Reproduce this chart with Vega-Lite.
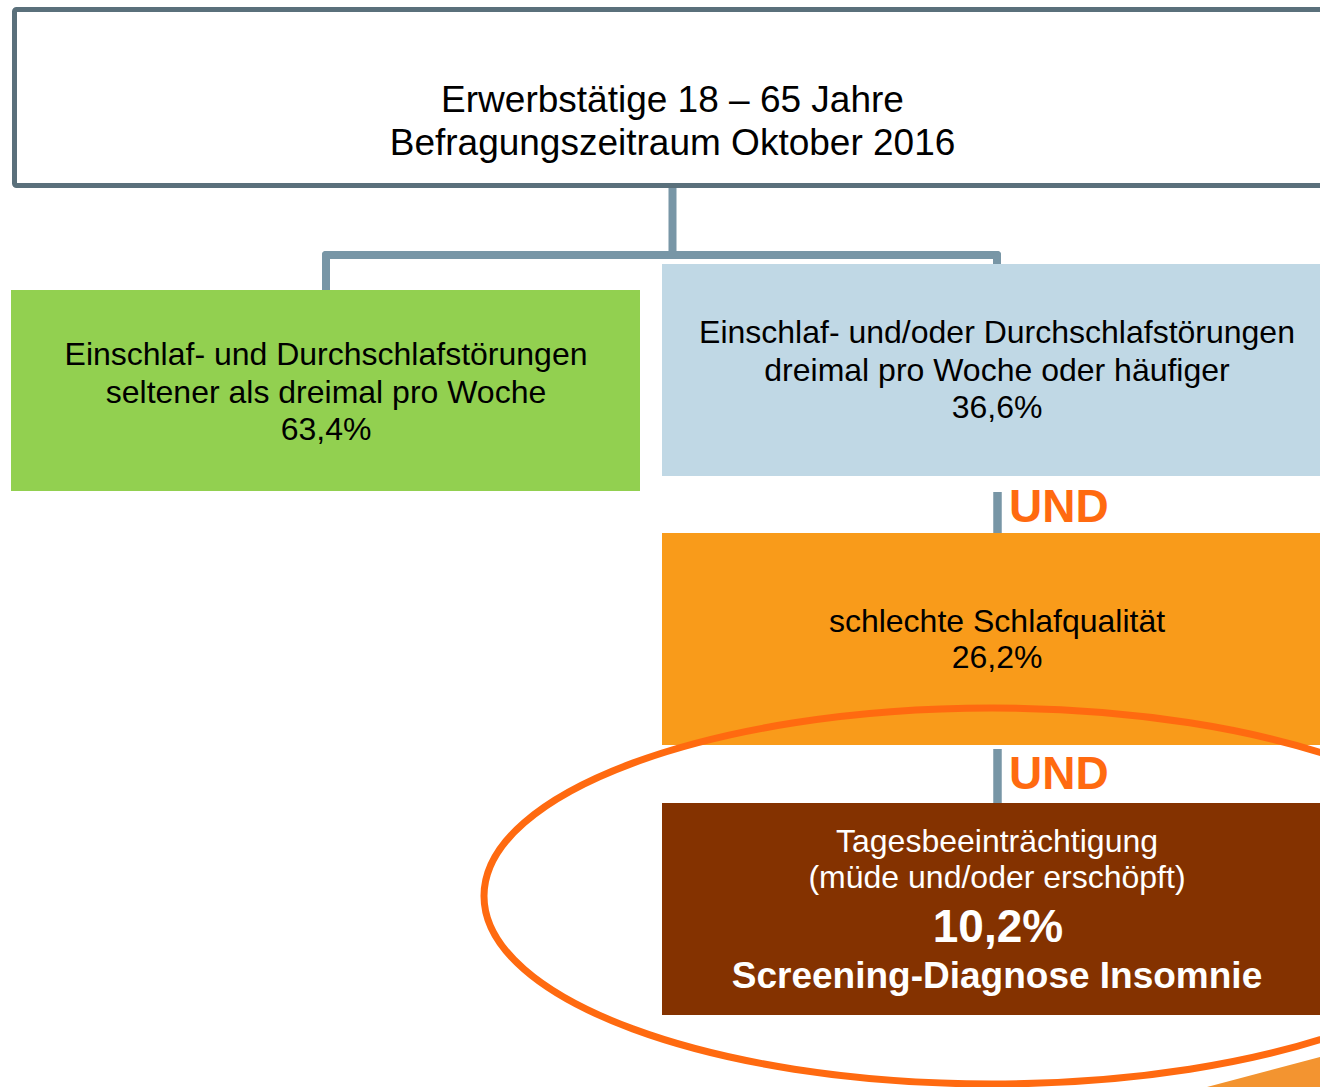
{
  "$schema": "https://vega.github.io/schema/vega-lite/v6.json",
  "width": 1320,
  "height": 1087,
  "autosize": {"type": "none"},
  "padding": 0,
  "background": "white",
  "config": {"view": {"stroke": null}, "text": {"font": "Liberation Sans"}},
  "datasets": {
    "boxes": [
      {"box": "green", "x": 11, "x2": 640, "y": 290, "y2": 491},
      {"box": "blue", "x": 662, "x2": 1332, "y": 264, "y2": 476},
      {"box": "orange", "x": 662, "x2": 1332, "y": 533, "y2": 745},
      {"box": "brown", "x": 662, "x2": 1332, "y": 803, "y2": 1015}
    ],
    "top": [{"x": 14.5, "x2": 1340, "y": 9.5, "y2": 185.5}],
    "connectors": [
      {"x": 672.5, "y": 188, "x2": 672.5, "y2": 255},
      {"x": 326, "y": 255, "x2": 997, "y2": 255},
      {"x": 326, "y": 255, "x2": 326, "y2": 292},
      {"x": 997, "y": 255, "x2": 997, "y2": 266}
    ],
    "bars": [
      {"x": 997.5, "y": 492, "x2": 997.5, "y2": 533},
      {"x": 997.5, "y": 749, "x2": 997.5, "y2": 803}
    ],
    "title": [
      {"t": "Erwerbstätige 18 – 65 Jahre", "x": 672.5, "y": 112},
      {"t": "Befragungszeitraum Oktober 2016", "x": 672.5, "y": 155}
    ],
    "black": [
      {"t": "Einschlaf- und Durchschlafstörungen", "x": 326, "y": 365},
      {"t": "seltener als dreimal pro Woche", "x": 326, "y": 402.5},
      {"t": "63,4%", "x": 326, "y": 440},
      {"t": "Einschlaf- und/oder Durchschlafstörungen", "x": 997, "y": 343},
      {"t": "dreimal pro Woche oder häufiger", "x": 997, "y": 381},
      {"t": "36,6%", "x": 997, "y": 418},
      {"t": "schlechte Schlafqualität", "x": 997, "y": 632},
      {"t": "26,2%", "x": 997, "y": 668}
    ],
    "white": [
      {"t": "Tagesbeeinträchtigung", "x": 997, "y": 852},
      {"t": "(müde und/oder erschöpft)", "x": 997, "y": 888}
    ],
    "big": [{"t": "10,2%", "x": 998, "y": 942}],
    "diag": [{"t": "Screening-Diagnose Insomnie", "x": 997, "y": 988}],
    "und": [
      {"t": "UND", "x": 1009, "y": 522},
      {"t": "UND", "x": 1009, "y": 789}
    ],
    "ellipse": [{"x": 992, "y": 896}],
    "wedge": [
      {"x": 1207, "y": 1087, "y2": 1087},
      {"x": 1320, "y": 1057, "y2": 1087}
    ]
  },
  "encoding": {
    "x": {"field": "x", "type": "quantitative", "scale": {"domain": [0, 1320], "nice": false, "zero": false}, "axis": null},
    "y": {"field": "y", "type": "quantitative", "scale": {"domain": [0, 1087], "nice": false, "zero": false, "reverse": true}, "axis": null}
  },
  "layer": [
    {
      "data": {"name": "connectors"},
      "mark": {"type": "rule", "stroke": "#7896a6", "strokeWidth": 8, "strokeCap": "round"},
      "encoding": {"x2": {"field": "x2"}, "y2": {"field": "y2"}}
    },
    {
      "data": {"name": "bars"},
      "mark": {"type": "rule", "stroke": "#7896a6", "strokeWidth": 8.5},
      "encoding": {"x2": {"field": "x2"}, "y2": {"field": "y2"}}
    },
    {
      "data": {"name": "boxes"},
      "mark": {"type": "rect"},
      "encoding": {
        "x2": {"field": "x2"},
        "y2": {"field": "y2"},
        "color": {"field": "box", "type": "nominal", "legend": null,
          "scale": {"domain": ["green", "blue", "orange", "brown"], "range": ["#92d050", "#c0d8e5", "#f99b1a", "#843200"]}}
      }
    },
    {
      "data": {"name": "top"},
      "mark": {"type": "rect", "fill": "white", "stroke": "#5a707b", "strokeWidth": 5, "cornerRadius": 2},
      "encoding": {"x2": {"field": "x2"}, "y2": {"field": "y2"}}
    },
    {
      "data": {"name": "title"},
      "mark": {"type": "text", "align": "center", "baseline": "alphabetic", "fontSize": 37, "color": "#000000"},
      "encoding": {"text": {"field": "t"}}
    },
    {
      "data": {"name": "black"},
      "mark": {"type": "text", "align": "center", "baseline": "alphabetic", "fontSize": 32, "color": "#000000"},
      "encoding": {"text": {"field": "t"}}
    },
    {
      "data": {"name": "white"},
      "mark": {"type": "text", "align": "center", "baseline": "alphabetic", "fontSize": 32, "color": "#ffffff"},
      "encoding": {"text": {"field": "t"}}
    },
    {
      "data": {"name": "big"},
      "mark": {"type": "text", "align": "center", "baseline": "alphabetic", "fontSize": 46, "fontWeight": "bold", "color": "#ffffff"},
      "encoding": {"text": {"field": "t"}}
    },
    {
      "data": {"name": "diag"},
      "mark": {"type": "text", "align": "center", "baseline": "alphabetic", "fontSize": 37, "fontWeight": "bold", "color": "#ffffff"},
      "encoding": {"text": {"field": "t"}}
    },
    {
      "data": {"name": "und"},
      "mark": {"type": "text", "align": "left", "baseline": "alphabetic", "fontSize": 46, "fontWeight": "bold", "color": "#ff6a10"},
      "encoding": {"text": {"field": "t"}}
    },
    {
      "data": {"name": "wedge"},
      "mark": {"type": "area", "color": "#f39430", "opacity": 1},
      "encoding": {"y2": {"field": "y2"}}
    },
    {
      "data": {"name": "ellipse"},
      "mark": {
        "type": "point",
        "filled": false,
        "opacity": 1,
        "stroke": "#ff6a10",
        "strokeWidth": 7,
        "size": 1032256,
        "shape": "M-1,0C-1,-0.2043,-0.5523,-0.37,0,-0.37C0.5523,-0.37,1,-0.2043,1,0C1,0.2043,0.5523,0.37,0,0.37C-0.5523,0.37,-1,0.2043,-1,0Z"
      }
    }
  ]
}
